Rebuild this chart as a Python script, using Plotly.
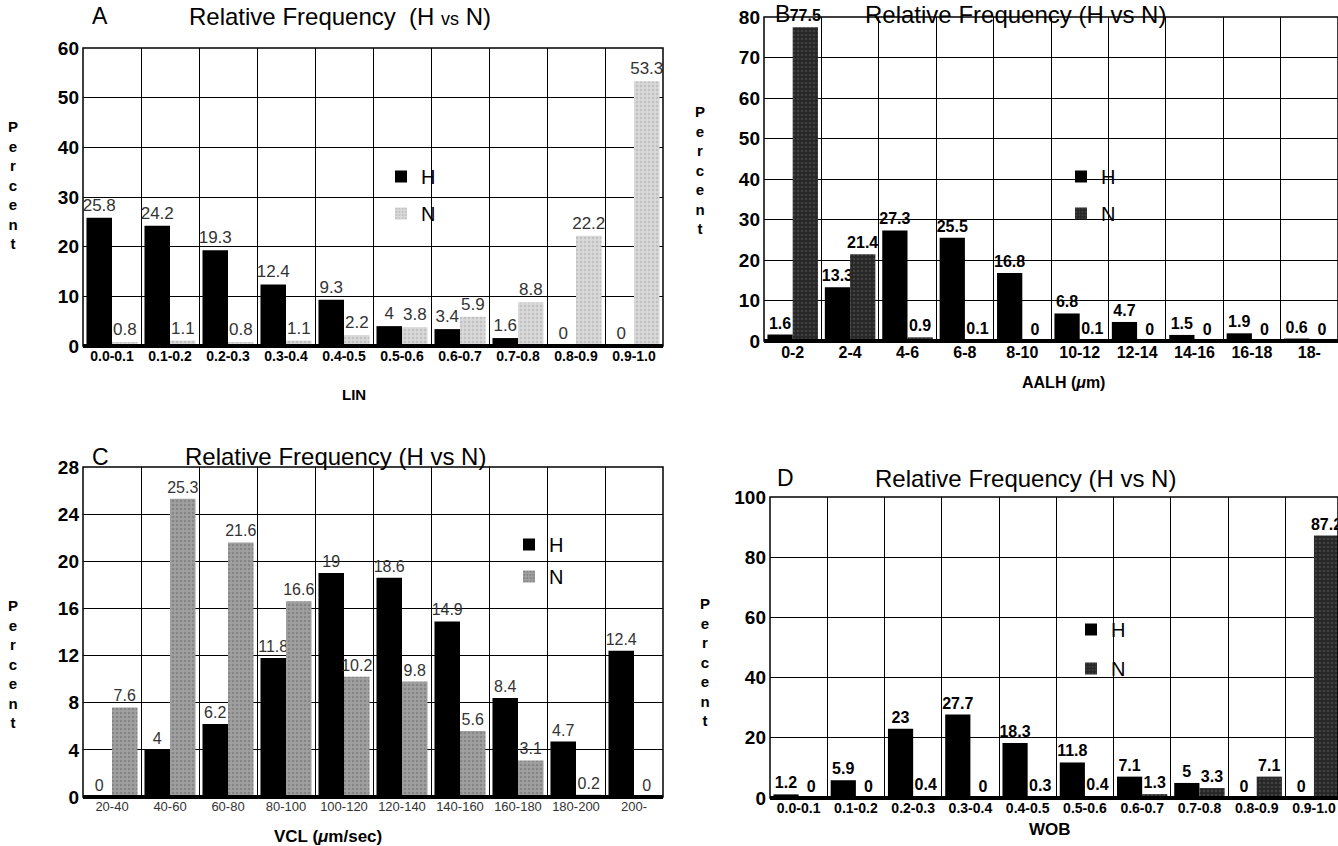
import plotly.graph_objects as go

W, H = 1338, 846

lin_cats = ["0.0-0.1", "0.1-0.2", "0.2-0.3", "0.3-0.4", "0.4-0.5",
            "0.5-0.6", "0.6-0.7", "0.7-0.8", "0.8-0.9", "0.9-1.0"]
A_H = [25.8, 24.2, 19.3, 12.4, 9.3, 4, 3.4, 1.6, 0, 0]
A_N = [0.8, 1.1, 0.8, 1.1, 2.2, 3.8, 5.9, 8.8, 22.2, 53.3]

aalh_cats = ["0-2", "2-4", "4-6", "6-8", "8-10", "10-12", "12-14", "14-16", "16-18", "18-"]
B_H = [1.6, 13.3, 27.3, 25.5, 16.8, 6.8, 4.7, 1.5, 1.9, 0.6]
B_N = [77.5, 21.4, 0.9, 0.1, 0, 0.1, 0, 0, 0, 0]

vcl_cats = ["20-40", "40-60", "60-80", "80-100", "100-120", "120-140",
            "140-160", "160-180", "180-200", "200-"]
C_H = [0, 4, 6.2, 11.8, 19, 18.6, 14.9, 8.4, 4.7, 12.4]
C_N = [7.6, 25.3, 21.6, 16.6, 10.2, 9.8, 5.6, 3.1, 0.2, 0]

wob_cats = lin_cats
D_H = [1.2, 5.9, 23, 27.7, 18.3, 11.8, 7.1, 5, 0, 0]
D_N = [0, 0, 0.4, 0, 0.3, 0.4, 1.3, 3.3, 7.1, 87.2]


def px(x):
    return x / W


def py(y):
    return 1 - y / H


FONT = "Liberation Sans, Arial, sans-serif"

panels = [
    dict(cats=lin_cats, h=A_H, n=A_N, nbg="#d9d9d9", nfg="#a8a8a8",
         xd=(83, 663), yd=(346, 48), yr=60, dt=10, bold=False,
         leg=(381, 157), xrange=(-0.5, 9.5), tsize=14, tw="bold", tc="black",
         tfont=17, lcolor="#333333"),
    dict(cats=aalh_cats, h=B_H, n=B_N, nbg="#262626", nfg="#5a5a5a",
         xd=(764, 1338), yd=(341, 17), yr=80, dt=10, bold=True,
         leg=(1061, 157), xrange=(-0.5, 9.5), tsize=16, tw="bold", tc="black",
         tfont=16, lcolor="#000000"),
    dict(cats=vcl_cats, h=C_H, n=C_N, nbg="#a0a0a0", nfg="#6a6a6a",
         xd=(83, 663), yd=(797, 467), yr=28, dt=4, bold=False,
         leg=(509, 525), xrange=(-0.5, 9.5), tsize=13, tw="normal", tc="#333333",
         tfont=16, lcolor="#333333"),
    dict(cats=wob_cats, h=D_H, n=D_N, nbg="#262626", nfg="#5a5a5a",
         xd=(770, 1338), yd=(798, 497), yr=100, dt=20, bold=True,
         leg=(1071, 610), xrange=(-0.5, 9.42), tsize=14, tw="bold", tc="black",
         tfont=16, lcolor="#000000"),
]
gaps = [8, 8, 3, 10]

fig = go.Figure()
layout = dict(width=W, height=H, margin=dict(l=0, r=0, t=0, b=0, autoexpand=False),
              paper_bgcolor="white", plot_bgcolor="white",
              barmode="group", bargap=0.12, bargroupgap=0.0,
              font=dict(family=FONT, color="black"),
              annotations=[], shapes=[])

for i, p in enumerate(panels):
    k = "" if i == 0 else str(i + 1)
    xa, ya = "x" + k, "y" + k
    lg = "legend" + k
    w = "bold" if p["bold"] else "normal"
    for name, vals, mk in [
        ("H", p["h"], dict(color="black", line=dict(width=0))),
        ("N", p["n"], dict(color=p["nbg"], line=dict(width=0),
                           pattern=dict(shape=".", bgcolor=p["nbg"], fgcolor=p["nfg"],
                                        size=4, solidity=0.35))),
    ]:
        fig.add_trace(go.Bar(
            x=p["cats"], y=vals, name=name, xaxis=xa, yaxis=ya, legend=lg,
            legendgroup=name + k,
            marker=mk, text=vals, textposition="outside", cliponaxis=False,
            constraintext="none",
            textfont=dict(size=p["tfont"], color=p["lcolor"], family=FONT, weight=w),
        ))
    layout["xaxis" + k] = dict(
        domain=[px(p["xd"][0]), px(p["xd"][1])], anchor=ya, automargin=False,
        type="category", range=list(p["xrange"]), tickson="boundaries",
        showgrid=True, gridcolor="black", gridwidth=1.3, ticks="",
        tickfont=dict(size=p["tsize"], family=FONT, weight=p["tw"], color=p["tc"]),
        showline=False, zeroline=False, fixedrange=True,
    )
    layout["yaxis" + k] = dict(
        domain=[py(p["yd"][0]), py(p["yd"][1])], anchor=xa, automargin=False,
        range=[0, p["yr"]], dtick=p["dt"], showgrid=True, gridcolor="black",
        gridwidth=1.3, ticks="", zeroline=False, showline=False,
        tickfont=dict(size=19, family=FONT, weight="bold"), ticklabelstandoff=3,
        fixedrange=True,
    )
    layout[lg] = dict(x=px(p["leg"][0]), y=py(p["leg"][1]), xanchor="left", yanchor="top",
                      bgcolor="rgba(0,0,0,0)", font=dict(size=20, family=FONT),
                      tracegroupgap=gaps[i], itemsizing="constant", traceorder="grouped")
    layout["shapes"].append(dict(type="rect", xref=xa + " domain", yref=ya + " domain",
                                 x0=0, x1=1, y0=0, y1=1, line=dict(color="black", width=1.5)))
    layout["shapes"].append(dict(type="line", xref=xa + " domain", yref=ya + " domain",
                                 x0=0, x1=1, y0=0, y1=0, line=dict(color="black", width=4)))

ann = layout["annotations"]


def text(x, y, s, size, weight="normal", color="black"):
    ann.append(dict(x=px(x), y=py(y), xref="paper", yref="paper", text=s, showarrow=False,
                    font=dict(size=size, family=FONT, weight=weight, color=color),
                    xanchor="center", yanchor="middle"))


title = "Relative Frequency (H vs N)"
text(100, 16, "A", 23)
text(340, 16, "Relative Frequency  (H <span style='font-size:18px'>vs</span> N)", 24)
text(782, 14, "B", 23)
text(1015, 14, title, 24)
text(100, 457, "C", 23)
text(335, 457, title, 24)
text(785, 478, "D", 23)
text(1025, 478, title, 24)

pct = "<br>".join("Percent")
text(13, 185, pct, 15, "bold")
text(700, 170, pct, 15, "bold")
text(13, 664, pct, 15, "bold")
text(705, 662, pct, 15, "bold")

text(354, 394, "LIN", 15, "bold")
text(1063, 383, "AALH (<i>μ</i>m)", 16, "bold")
text(328, 836, "VCL (<i>μ</i>m/sec)", 17, "bold")
text(1050, 829, "WOB", 17, "bold")

fig.update_layout(**layout)
fig.write_html("out.html", config={"displayModeBar": False},
               post_script="document.body.style.margin='0';document.body.style.overflow='hidden';")
